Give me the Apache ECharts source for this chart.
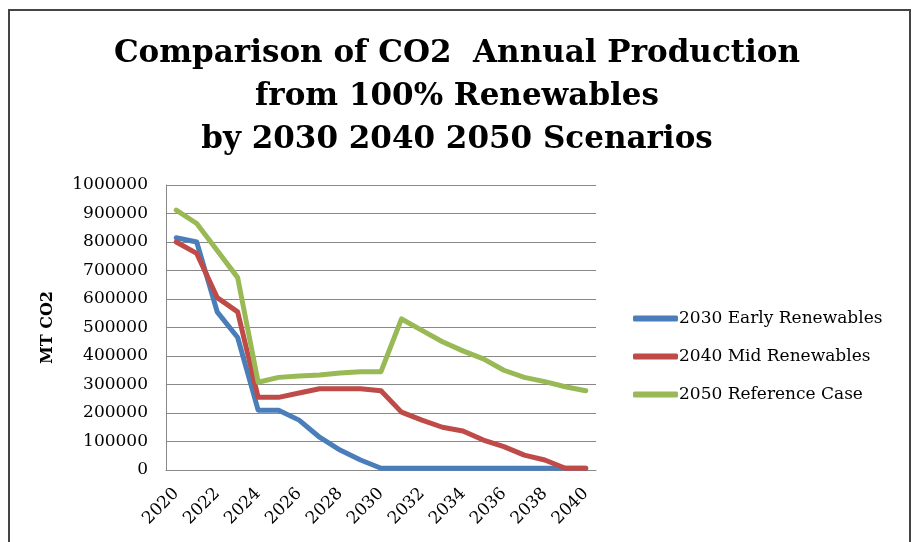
<!DOCTYPE html>
<html><head><meta charset="utf-8">
<script src="https://cdn.jsdelivr.net/npm/echarts@6/dist/echarts.min.js"></script>
<style>html,body{margin:0;padding:0;background:#fff}#c{width:914px;height:542px}</style>
</head><body><div id="c"></div>
<script>
const years = ['2020','2021','2022','2023','2024','2025','2026','2027','2028','2029','2030','2031','2032','2033','2034','2035','2036','2037','2038','2039','2040'];
const early = [815000,800000,555000,465000,210000,210000,175000,115000,70000,35000,6000,6000,6000,6000,6000,6000,6000,6000,6000,6000,6000];
const mid = [800000,760000,605000,555000,255000,255000,270000,285000,285000,285000,278000,203000,175000,150000,137000,105000,82000,52000,35000,6000,6000];
const ref = [912000,865000,770000,675000,308000,325000,330000,333000,340000,345000,345000,530000,490000,450000,418000,390000,350000,325000,310000,292000,278000];
const seriesNames = ['2030 Early Renewables','2040 Mid Renewables','2050 Reference Case'];
const colors = ['#4a7ebb','#be4b48','#98b954'];
const titleText = 'Comparison of CO2  Annual Production\nfrom 100% Renewables\nby 2030 2040 2050 Scenarios';
const yName = 'MT CO2';

const serif = '"DejaVu Serif", "Liberation Serif", serif';
const chart = echarts.init(document.getElementById('c'));
chart.setOption({
  animation:false,
  color: colors,
  title:{text:titleText,left:'center',top:27,textStyle:{fontFamily:serif,fontWeight:'bold',fontSize:31,lineHeight:43,color:'#000'}},
  graphic:[{type:'rect',shape:{x:9,y:10,width:901,height:560},style:{fill:'none',stroke:'#444',lineWidth:2}}],
  legend:{orient:'vertical',left:628,top:305,itemWidth:45,itemHeight:6,itemGap:21,icon:'roundRect',
    textStyle:{fontFamily:serif,fontSize:17,color:'#000',padding:[0,0,0,-4]}},
  grid:{left:166,right:318,top:185,bottom:72},
  xAxis:{type:'category',data:years,boundaryGap:true,
    axisLine:{lineStyle:{color:'#888',width:1}},axisTick:{show:false},
    axisLabel:{interval:1,rotate:45,fontFamily:serif,fontSize:17,color:'#000',margin:21}},
  yAxis:{type:'value',min:0,max:1000000,interval:100000,name:yName,nameLocation:'middle',nameGap:110,
    nameTextStyle:{fontFamily:serif,fontWeight:'bold',fontSize:16,color:'#000'},
    axisLine:{show:true,lineStyle:{color:'#888'}},axisTick:{show:false},
    axisLabel:{fontFamily:serif,fontSize:17,color:'#000',margin:18,formatter:v=>String(v)},
    splitLine:{lineStyle:{color:'#888',width:1}}},
  series:[
    {name:seriesNames[0],type:'line',data:early,symbol:'none',lineStyle:{width:5,cap:'round',join:'round'}},
    {name:seriesNames[1],type:'line',data:mid,symbol:'none',lineStyle:{width:5,cap:'round',join:'round'}},
    {name:seriesNames[2],type:'line',data:ref,symbol:'none',lineStyle:{width:5,cap:'round',join:'round'}}
  ]
});
</script></body></html>
